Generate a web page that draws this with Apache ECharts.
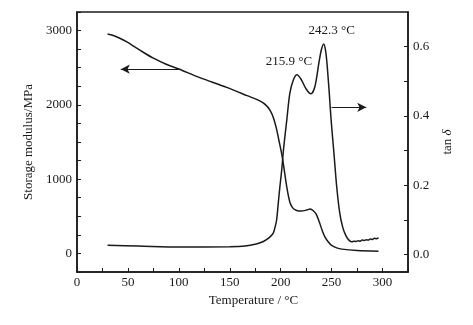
<!DOCTYPE html>
<html>
<head>
<meta charset="utf-8">
<script src="https://cdn.jsdelivr.net/npm/echarts@6/dist/echarts.min.js"></script>
<style>
  html, body { margin: 0; padding: 0; background: #fff; }
  #chart { width: 473px; height: 325px; }
</style>
</head>
<body>
<div id="chart"></div>
<script>
// storage modulus (MPa) vs temperature
const modulusData = [
  [30, 2953], [35, 2937], [42, 2897], [49, 2847], [56, 2787], [65, 2708],
  [75, 2628], [87, 2550], [100, 2482], [120, 2370], [147, 2235], [167, 2124],
  [180, 2050], [186, 1990], [190, 1915], [193, 1820], [196, 1670], [198, 1540],
  [201, 1340], [203, 1170], [206, 891], [209, 690], [212, 610], [215, 582],
  [220, 570], [225, 582], [229, 598], [232, 575], [235, 525], [238.5, 400],
  [241, 300], [243.5, 219], [247, 150], [250, 108], [255, 75], [260, 58],
  [275, 40], [296, 31]
]

// tan delta vs temperature
const tanData = [
  [30, 0.027], [60, 0.025], [100, 0.022], [150, 0.023], [165, 0.025],
  [176, 0.031], [183, 0.038], [189, 0.05], [192.7, 0.062], [194.5, 0.08],
  [196, 0.1], [197.6, 0.148], [199, 0.19], [201, 0.244], [203, 0.31],
  [206, 0.389], [209, 0.466], [212.4, 0.504], [215.9, 0.519], [220, 0.506],
  [225, 0.478], [229.7, 0.464], [233.6, 0.485], [237.5, 0.553], [240, 0.592],
  [242.3, 0.608], [244, 0.59], [245.5, 0.55], [247.7, 0.466], [249.5, 0.389],
  [252.3, 0.292], [255, 0.196], [258, 0.12], [261, 0.078], [264, 0.055],
  [267, 0.042], [270, 0.037], [272, 0.039], [274, 0.038], [276, 0.040],
  [278, 0.039], [280, 0.042], [282, 0.041], [284, 0.043], [286, 0.042],
  [288, 0.045], [290, 0.044], [292, 0.047], [294, 0.046], [296, 0.049]
]

const peaks = [
  { temp: 215.9, value: 0.519, text: '215.9 °C', offset: [-8, -13] },
  { temp: 242.3, value: 0.608, text: '242.3 °C', offset: [8, -13] }
]

const tanTicks = [0, 0.1, 0.2, 0.3, 0.4, 0.5, 0.6]
const tanLabels = [0, 0.2, 0.4, 0.6]

const font = 'Liberation Serif'
const ink = '#1a1a1a'

const chart = echarts.init(document.getElementById('chart'))

const axisCommon = {
  axisLine: { show: true, onZero: false, lineStyle: { color: ink, width: 1.5 } },
  axisTick: { show: true, inside: true, length: 4, lineStyle: { color: ink } },
  splitLine: { show: false },
  nameTextStyle: { fontFamily: font, fontSize: 13, color: ink },
  axisLabel: { fontFamily: font, fontSize: 13, color: ink }
}

const lineStyle = { color: ink, width: 1.5 }

chart.setOption({
  animation: false,
  backgroundColor: '#fff',
  grid: {
    left: 77, right: 65, top: 12, bottom: 53,
    show: true, borderColor: ink, borderWidth: 1.5
  },
  xAxis: {
    ...axisCommon,
    type: 'value',
    min: 0, max: 325, interval: 25,
    name: 'Temperature / °C',
    nameLocation: 'middle',
    nameGap: 21,
    nameTextStyle: { ...axisCommon.nameTextStyle, padding: [0, 0, 0, 22] },
    axisLabel: {
      ...axisCommon.axisLabel,
      margin: 4,
      formatter: v => (v % 50 === 0 && v <= 300 ? String(v) : '')
    }
  },
  yAxis: [
    {
      ...axisCommon,
      type: 'value',
      min: -250, max: 3250, interval: 250,
      name: 'Storage modulus/MPa',
      nameLocation: 'middle',
      nameGap: 37,
      nameRotate: 90,
      axisLabel: {
        ...axisCommon.axisLabel,
        margin: 5,
        formatter: v => (v % 1000 === 0 ? String(v) : '')
      }
    },
    {
      ...axisCommon,
      type: 'value',
      position: 'right',
      min: -0.05, max: 0.7,
      name: 'tan {i|δ}',
      nameLocation: 'middle',
      nameGap: 33,
      nameRotate: 90,
      nameTextStyle: {
        ...axisCommon.nameTextStyle,
        rich: { i: { fontFamily: font, fontSize: 13, fontStyle: 'italic', color: ink } }
      },
      axisTick: { ...axisCommon.axisTick, customValues: tanTicks },
      axisLabel: {
        ...axisCommon.axisLabel,
        margin: 5,
        customValues: tanLabels,
        formatter: v => v.toFixed(1)
      }
    }
  ],
  series: [
    {
      name: 'Storage modulus',
      type: 'line',
      yAxisIndex: 0,
      data: modulusData,
      showSymbol: false,
      smooth: 0.3,
      lineStyle: lineStyle,
      markLine: {
        silent: true,
        symbol: ['none', 'arrow'],
        symbolSize: [7, 9],
        label: { show: false },
        lineStyle: { color: ink, width: 1.2, type: 'solid' },
        data: [[{ coord: [100, 2480] }, { coord: [43, 2480] }]]
      }
    },
    {
      name: 'tan delta',
      type: 'line',
      yAxisIndex: 1,
      data: tanData,
      showSymbol: false,
      smooth: 0.3,
      lineStyle: lineStyle,
      markLine: {
        silent: true,
        symbol: ['none', 'arrow'],
        symbolSize: [7, 9],
        label: { show: false },
        lineStyle: { color: ink, width: 1.2, type: 'solid' },
        data: [[{ coord: [250, 0.425] }, { coord: [284, 0.425] }]]
      },
      markPoint: {
        silent: true,
        symbol: 'circle',
        symbolSize: 0,
        data: peaks.map(p => ({
          coord: [p.temp, p.value],
          label: {
            show: true,
            position: 'inside',
            offset: p.offset,
            formatter: p.text,
            fontFamily: font,
            fontSize: 13,
            color: ink
          }
        }))
      }
    }
  ]
})
</script>
</body>
</html>
